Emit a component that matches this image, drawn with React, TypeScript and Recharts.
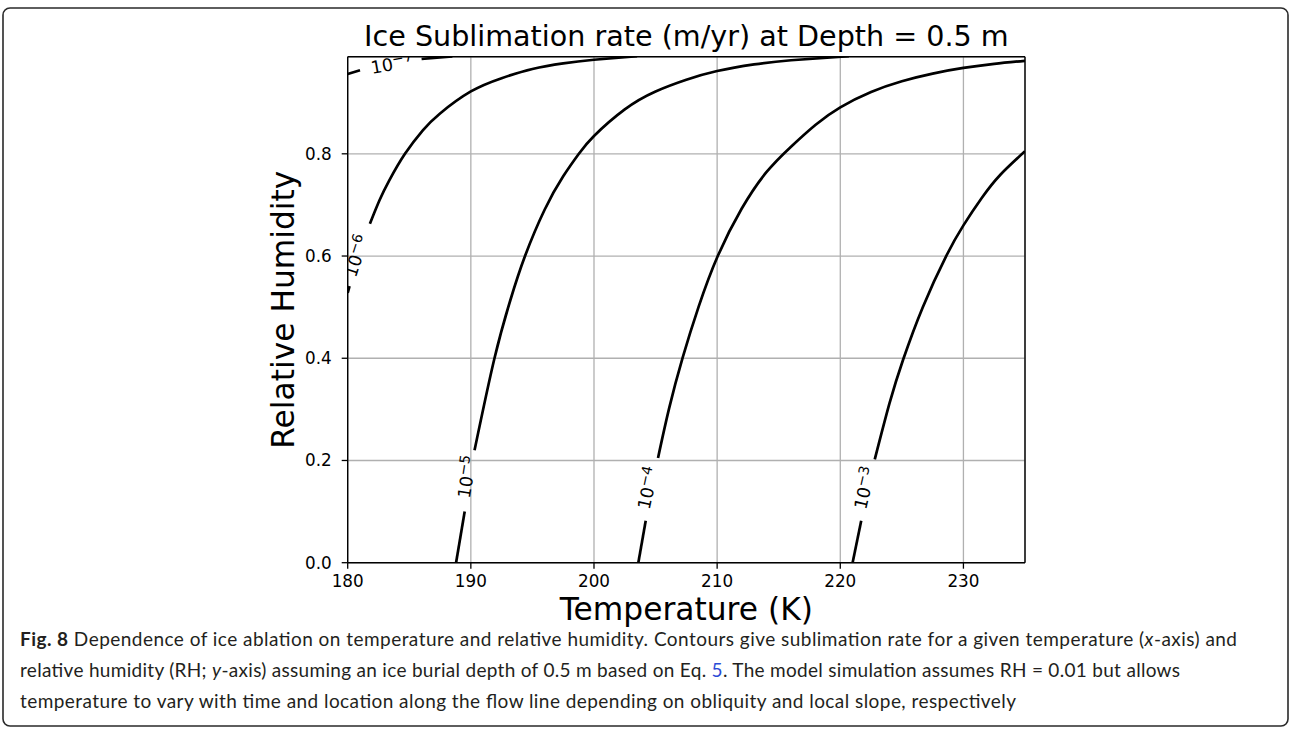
import React from 'react';
import { ComposedChart, Line, Scatter, XAxis, YAxis, CartesianGrid, ReferenceLine, Label } from 'recharts';

// ---- axis setup ----
const xTicks = [180, 190, 200, 210, 220, 230];
const yTicks = [0, 0.2, 0.4, 0.6, 0.8];
const xDomain: [number, number] = [180, 235];
const yDomain: [number, number] = [0, 0.99];

// ---- contour segments (T in K, RH) ; each contour split where its label sits ----
const c7a = [ { t: 180, rh: 0.956 }, { t: 181, rh: 0.9636 } ];
const c7b = [ { t: 186, rh: 0.9855 }, { t: 187, rh: 0.9877 }, { t: 188.5, rh: 0.9906 } ];

const c6a = [ { t: 180, rh: 0.528 }, { t: 180.15, rh: 0.541 } ];
const c6b = [
  { t: 181.8, rh: 0.663 }, { t: 182.6, rh: 0.71 }, { t: 183.4, rh: 0.749 }, { t: 184.65, rh: 0.8 },
  { t: 186.1, rh: 0.846 }, { t: 187.5, rh: 0.879 }, { t: 190, rh: 0.922 }, { t: 192.5, rh: 0.948 },
  { t: 195, rh: 0.966 }, { t: 197.5, rh: 0.977 }, { t: 200, rh: 0.984 }, { t: 203.5, rh: 0.991 },
];

const c5a = [ { t: 188.8, rh: 0 }, { t: 189.5, rh: 0.1 } ];
const c5b = [
  { t: 190.3, rh: 0.22 }, { t: 191.9, rh: 0.398 }, { t: 193.2, rh: 0.513 }, { t: 194.4, rh: 0.6 },
  { t: 196, rh: 0.691 }, { t: 197.5, rh: 0.756 }, { t: 198.8, rh: 0.801 }, { t: 200, rh: 0.835 },
  { t: 202.5, rh: 0.887 }, { t: 205, rh: 0.922 }, { t: 207.5, rh: 0.945 }, { t: 210, rh: 0.962 },
  { t: 213, rh: 0.975 }, { t: 216, rh: 0.983 }, { t: 220.7, rh: 0.991 },
];

const c4a = [ { t: 203.6, rh: 0 }, { t: 204.2, rh: 0.082 } ];
const c4b = [
  { t: 205.2, rh: 0.205 }, { t: 206.1, rh: 0.302 }, { t: 207.2, rh: 0.401 }, { t: 208.5, rh: 0.501 },
  { t: 210.05, rh: 0.6 }, { t: 212, rh: 0.693 }, { t: 214, rh: 0.764 }, { t: 216, rh: 0.814 },
  { t: 218, rh: 0.857 }, { t: 220, rh: 0.891 }, { t: 222.5, rh: 0.921 }, { t: 225, rh: 0.942 },
  { t: 227.5, rh: 0.957 }, { t: 230, rh: 0.968 }, { t: 232.5, rh: 0.976 }, { t: 235, rh: 0.982 },
];

const c3a = [ { t: 221.0, rh: 0 }, { t: 221.7, rh: 0.082 } ];
const c3b = [
  { t: 222.8, rh: 0.202 }, { t: 224.0, rh: 0.312 }, { t: 225.1, rh: 0.397 }, { t: 226.7, rh: 0.5 },
  { t: 228.6, rh: 0.6 }, { t: 230, rh: 0.66 }, { t: 231.5, rh: 0.714 }, { t: 233, rh: 0.759 },
  { t: 235, rh: 0.805 },
];

const segments = [c7a, c7b, c6a, c6b, c5a, c5b, c4a, c4b, c3a, c3b];

// ---- contour labels (10^exp) ----
const labelExps = ['−7', '−6', '−5', '−4', '−3'];
const labelPoints = [
  { t: 183.6, rh: 0.975, i: 0 },
  { t: 180.73, rh: 0.6, i: 1 },
  { t: 189.7, rh: 0.168, i: 2 },
  { t: 204.4, rh: 0.146, i: 3 },
  { t: 222.0, rh: 0.146, i: 4 },
];
const LABEL_ANGLES = [-10, -72, -81, -78, -77];

const title = 'Ice Sublimation rate (m/yr) at Depth = 0.5 m';
const xLabel = 'Temperature (K)';
const yLabel = 'Relative Humidity';

const FONT = '"DejaVu Sans", sans-serif';

const ContourLabel = (props: any) => {
  const { cx, cy, payload } = props;
  if (cx == null || cy == null) return null;
  const idx = payload.i;
  return (
    <text
      x={cx}
      y={cy}
      transform={`rotate(${LABEL_ANGLES[idx]} ${cx} ${cy})`}
      textAnchor="middle"
      dominantBaseline="central"
      fontFamily={FONT}
      fontSize={17.5}
      fill="#000"
    >
      <tspan>10</tspan>
      <tspan fontSize={14} dy={-5}>{labelExps[idx]}</tspan>
    </text>
  );
};

const XLabelContent = (props: any) => {
  const vb = props.viewBox;
  return (
    <text x={vb.x + vb.width / 2} y={vb.y + 57} textAnchor="middle" fontFamily={FONT} fontSize={31.3} fill="#000">
      {xLabel}
    </text>
  );
};

const YLabelContent = (props: any) => {
  const vb = props.viewBox;
  const cx = vb.x + vb.width - 54;
  const cy = vb.y + vb.height / 2;
  return (
    <text x={cx} y={cy} transform={`rotate(-90 ${cx} ${cy})`} textAnchor="middle" fontFamily={FONT} fontSize={31.3} fill="#000">
      {yLabel}
    </text>
  );
};

export default function App() {
  const tickStyle = { fontFamily: FONT, fontSize: 16.8, fill: '#000' };
  return (
    <div style={{ position: 'absolute', left: 0, top: 0, width: 1290, height: 730, background: '#fff' }}>
      <svg width={1290} height={730} style={{ position: 'absolute', left: 0, top: 0 }}>
        <rect x={3} y={8} width={1285} height={718} rx={7} ry={7} fill="none" stroke="#2a2a2a" strokeWidth={1.6} />
        <text x={686.4} y={46} textAnchor="middle" fontFamily={FONT} fontSize={28.6} fill="#000">{title}</text>
        <g fontFamily='Lato, "Open Sans", sans-serif' fontSize={19} fill="#231f20">
          <text x={20} y={646} textLength={1217} lengthAdjust="spacing">
            <tspan fontWeight="bold">Fig. 8</tspan>
            <tspan> Dependence of ice ablation on temperature and relative humidity. Contours give sublimation rate for a given temperature (</tspan>
            <tspan fontStyle="italic">x</tspan>
            <tspan>-axis) and</tspan>
          </text>
          <text x={20} y={677} textLength={1160} lengthAdjust="spacing">
            <tspan>relative humidity (RH; </tspan>
            <tspan fontStyle="italic">y</tspan>
            <tspan>-axis) assuming an ice burial depth of 0.5 m based on Eq. </tspan>
            <tspan fill="#2b4bd6">5</tspan>
            <tspan>. The model simulation assumes RH = 0.01 but allows</tspan>
          </text>
          <text x={20} y={708} textLength={996} lengthAdjust="spacing">
            temperature to vary with time and location along the flow line depending on obliquity and local slope, respectively
          </text>
        </g>
      </svg>
      <div style={{ position: 'absolute', left: 0, top: 0 }}>
        <ComposedChart
          width={1290}
          height={730}
          margin={{ top: 56.7, right: 265, left: 0, bottom: 0 }}
        >
          <CartesianGrid stroke="#b0b0b0" strokeWidth={1.3} />
          <XAxis
            type="number"
            dataKey="t"
            domain={xDomain}
            ticks={xTicks}
            allowDataOverflow
            height={167.3}
            tick={tickStyle}
            tickSize={6}
            tickMargin={6}
            axisLine={{ stroke: '#000', strokeWidth: 1.4 }}
            tickLine={{ stroke: '#000', strokeWidth: 1.3 }}
          >
            <Label content={<XLabelContent />} />
          </XAxis>
          <YAxis
            type="number"
            dataKey="rh"
            domain={yDomain}
            ticks={yTicks}
            allowDataOverflow
            width={347.7}
            tick={tickStyle}
            tickSize={6}
            tickMargin={10}
            tickFormatter={(v: number) => v.toFixed(1)}
            axisLine={{ stroke: '#000', strokeWidth: 1.4 }}
            tickLine={{ stroke: '#000', strokeWidth: 1.3 }}
          >
            <Label content={<YLabelContent />} />
          </YAxis>
          <ReferenceLine y={0.99} stroke="#000" strokeWidth={1.4} />
          <ReferenceLine x={235} stroke="#000" strokeWidth={1.4} />
          {segments.map((seg, k) => (
            <Line
              key={k}
              data={seg}
              dataKey="rh"
              type="natural"
              stroke="#000"
              strokeWidth={2.7}
              dot={false}
              activeDot={false}
              isAnimationActive={false}
            />
          ))}
          <Scatter data={labelPoints} dataKey="rh" shape={<ContourLabel />} isAnimationActive={false} />
        </ComposedChart>
      </div>
    </div>
  );
}
